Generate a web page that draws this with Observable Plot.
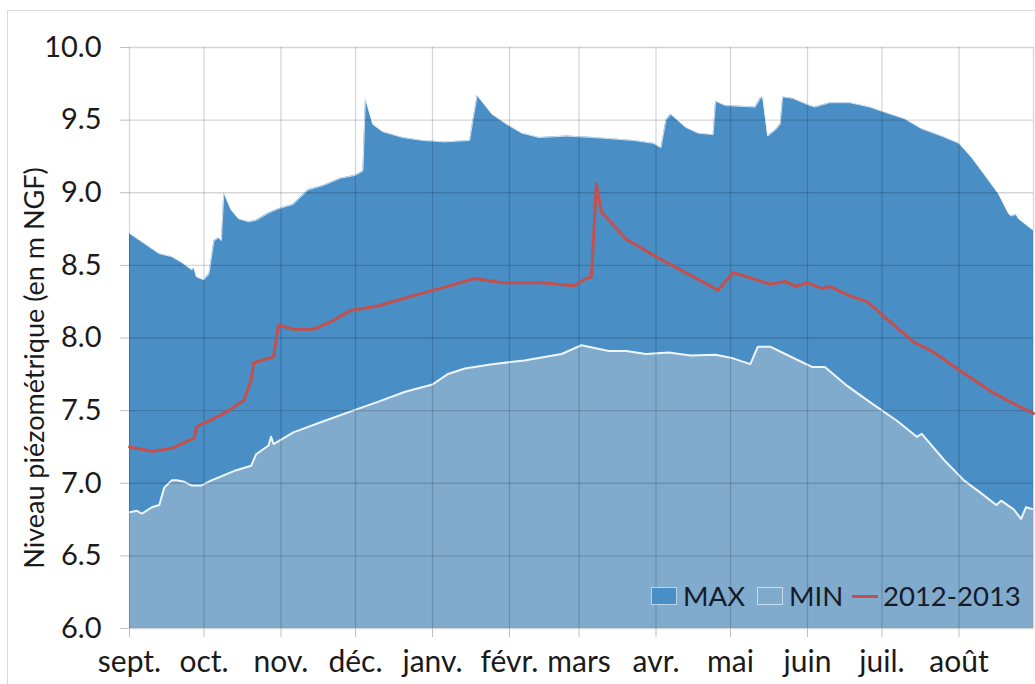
<!DOCTYPE html>
<html>
<head>
<meta charset="utf-8">
<script src="https://cdn.jsdelivr.net/npm/d3@7"></script>
<script src="https://cdn.jsdelivr.net/npm/@observablehq/plot@0.6"></script>
<style>
html, body { margin: 0; padding: 0; background: #fff; }
#wrap { position: relative; width: 1035px; height: 684px; overflow: hidden; font-family: Lato, "Open Sans", sans-serif; }
#chart { position: absolute; left: 0; top: 0; }
#frame { position: absolute; left: 7px; top: 10px; width: 1100px; height: 800px; border: 1px solid #d9d9d9; pointer-events: none; }
#ylabel { position: absolute; left: 33px; top: 368px; transform: translate(-50%, -50%) rotate(-90deg); font-size: 27px; color: #1a1a1a; white-space: nowrap; line-height: 1; }
.lg { position: absolute; }
.lgtext { position: absolute; font-size: 27.5px; color: #141b2b; line-height: 1; top: 582px; white-space: nowrap; }
</style>
</head>
<body>
<div id="wrap">
  <div id="chart"></div>
  <div id="frame"></div>
  <div id="ylabel"></div>
  <div id="legend"></div>
</div>
<script>
// ---- Data ----
const monthLabels = ["sept.", "oct.", "nov.", "déc.", "janv.", "févr.", "mars", "avr.", "mai", "juin", "juil.", "août"];
const monthStarts = ["2012-09-01", "2012-10-01", "2012-11-01", "2012-12-01", "2013-01-01", "2013-02-01", "2013-03-01", "2013-04-01", "2013-05-01", "2013-06-01", "2013-07-01", "2013-08-01"];
const yTicks = [6.0, 6.5, 7.0, 7.5, 8.0, 8.5, 9.0, 9.5, 10.0];

const maxDates = ["2012-09-01","2012-09-07","2012-09-13","2012-09-18","2012-09-22","2012-09-26","2012-09-27","2012-09-28","2012-10-01","2012-10-03","2012-10-05","2012-10-07","2012-10-08","2012-10-09","2012-10-12","2012-10-15","2012-10-19","2012-10-22","2012-10-27","2012-10-31","2012-11-06","2012-11-09","2012-11-12","2012-11-18","2012-11-25","2012-12-01","2012-12-03","2012-12-04","2012-12-05","2012-12-08","2012-12-12","2012-12-20","2012-12-28","2013-01-06","2013-01-16","2013-01-17","2013-01-19","2013-01-25","2013-01-31","2013-02-06","2013-02-13","2013-02-24","2013-03-07","2013-03-15","2013-03-23","2013-03-31","2013-04-03","2013-04-05","2013-04-07","2013-04-13","2013-04-18","2013-04-24","2013-04-25","2013-04-29","2013-05-11","2013-05-13","2013-05-14","2013-05-16","2013-05-19","2013-05-21","2013-05-22","2013-05-26","2013-06-02","2013-06-04","2013-06-10","2013-06-18","2013-06-26","2013-07-02","2013-07-10","2013-07-17","2013-07-25","2013-08-01","2013-08-06","2013-08-11","2013-08-17","2013-08-21","2013-08-22","2013-08-24","2013-08-25","2013-08-31"];
const maxValues = [8.72,8.65,8.58,8.56,8.52,8.47,8.48,8.42,8.40,8.44,8.67,8.69,8.67,9.00,8.88,8.82,8.80,8.81,8.86,8.89,8.92,8.97,9.02,9.05,9.10,9.12,9.14,9.15,9.65,9.47,9.42,9.38,9.36,9.35,9.36,9.47,9.67,9.54,9.47,9.41,9.38,9.39,9.38,9.37,9.36,9.34,9.31,9.50,9.54,9.45,9.41,9.40,9.63,9.60,9.59,9.65,9.66,9.39,9.43,9.47,9.66,9.65,9.60,9.59,9.62,9.62,9.59,9.555,9.51,9.44,9.39,9.34,9.245,9.13,8.99,8.855,8.84,8.85,8.82,8.74];

const minDates = ["2012-09-01","2012-09-04","2012-09-06","2012-09-10","2012-09-13","2012-09-15","2012-09-18","2012-09-20","2012-09-23","2012-09-26","2012-09-30","2012-10-04","2012-10-14","2012-10-20","2012-10-22","2012-10-27","2012-10-28","2012-10-29","2012-11-06","2012-11-17","2012-11-30","2012-12-10","2012-12-21","2013-01-01","2013-01-07","2013-01-14","2013-01-25","2013-02-07","2013-02-22","2013-03-02","2013-03-13","2013-03-20","2013-03-28","2013-04-06","2013-04-15","2013-04-25","2013-05-02","2013-05-09","2013-05-12","2013-05-17","2013-05-23","2013-06-03","2013-06-08","2013-06-17","2013-06-26","2013-07-07","2013-07-15","2013-07-17","2013-07-26","2013-08-03","2013-08-10","2013-08-16","2013-08-18","2013-08-23","2013-08-26","2013-08-28","2013-08-31"];
const minValues = [6.80,6.81,6.79,6.835,6.85,6.97,7.02,7.02,7.01,6.985,6.985,7.02,7.09,7.12,7.20,7.26,7.32,7.27,7.35,7.42,7.50,7.56,7.63,7.68,7.75,7.79,7.82,7.845,7.89,7.95,7.91,7.91,7.89,7.90,7.88,7.885,7.86,7.82,7.94,7.94,7.89,7.80,7.80,7.67,7.56,7.43,7.32,7.34,7.16,7.02,6.93,6.85,6.88,6.82,6.755,6.835,6.82];

const yearLabel = "2012-2013";
const yearDates = ["2012-09-01","2012-09-10","2012-09-18","2012-09-27","2012-09-28","2012-10-03","2012-10-10","2012-10-17","2012-10-20","2012-10-21","2012-10-29","2012-10-31","2012-11-06","2012-11-14","2012-11-22","2012-11-29","2012-12-10","2012-12-24","2013-01-06","2013-01-18","2013-01-29","2013-02-14","2013-02-27","2013-03-04","2013-03-06","2013-03-08","2013-03-10","2013-03-20","2013-04-01","2013-04-14","2013-04-26","2013-05-02","2013-05-06","2013-05-17","2013-05-23","2013-05-27","2013-06-01","2013-06-07","2013-06-10","2013-06-18","2013-06-25","2013-07-03","2013-07-14","2013-07-21","2013-08-01","2013-08-15","2013-08-24","2013-08-31"];
const yearValues = [7.25,7.22,7.24,7.31,7.39,7.43,7.49,7.57,7.71,7.83,7.87,8.09,8.06,8.06,8.12,8.19,8.22,8.29,8.35,8.41,8.38,8.38,8.36,8.41,8.42,9.06,8.87,8.68,8.56,8.44,8.33,8.45,8.43,8.37,8.39,8.355,8.38,8.34,8.355,8.29,8.25,8.13,7.97,7.91,7.78,7.62,7.54,7.48];

const yLabel = "Niveau piézométrique (en m NGF)";

// ---- Build tables ----
const parse = d3.utcParse("%Y-%m-%d");
const maxData = maxDates.map((d, i) => ({date: parse(d), value: maxValues[i]}));
const minData = minDates.map((d, i) => ({date: parse(d), value: minValues[i]}));
const yearData = yearDates.map((d, i) => ({date: parse(d), value: yearValues[i]}));
const ticksX = monthStarts.map(parse);

const colMax = "#4a8ec6";
const colMin = "#80abcd";
const colYear = "#c4504e";

const chart = Plot.plot({
  width: 1035,
  height: 684,
  marginLeft: 129,
  marginRight: 2,
  marginTop: 47,
  marginBottom: 56,
  style: {fontFamily: "Lato, 'Open Sans', sans-serif", background: "transparent"},
  x: {type: "utc", domain: [parse("2012-09-01"), parse("2013-08-31")]},
  y: {domain: [6, 10]},
  marks: [
    Plot.areaY(maxData, {x: "date", y1: 6, y2: "value", fill: colMax, curve: "linear"}),
    Plot.lineY(maxData, {x: "date", y: "value", stroke: "#eaf3fb", strokeWidth: 1, strokeOpacity: 0.8}),
    Plot.areaY(minData, {x: "date", y1: 6, y2: "value", fill: colMin, curve: "linear"}),
    Plot.lineY(minData, {x: "date", y: "value", stroke: "#eef6fd", strokeWidth: 2}),
    Plot.gridY(yTicks, {stroke: "#000", strokeOpacity: 0.16, strokeWidth: 1.3}),
    Plot.gridX(ticksX, {stroke: "#000", strokeOpacity: 0.16, strokeWidth: 1.3}),
    Plot.ruleX([parse("2013-08-31")], {stroke: "#000", strokeOpacity: 0.16, strokeWidth: 1.3}),
    Plot.lineY(yearData, {x: "date", y: "value", stroke: colYear, strokeWidth: 3, strokeLinejoin: "round"}),
    Plot.axisY(yTicks, {tickSize: 9, tickPadding: 19, fontSize: 29, stroke: "#bfbfbf", fill: "#1a1a1a", tickFormat: d => d.toFixed(1), label: null}),
    Plot.axisX(ticksX, {tickSize: 9, tickPadding: 13, fontSize: 30, stroke: "#bfbfbf", fill: "#1a1a1a", tickFormat: (d, i) => monthLabels[i], label: null})
  ]
});
document.getElementById("chart").appendChild(chart);
document.getElementById("ylabel").textContent = yLabel;

// ---- Legend (inside plot, bottom right) ----
const legend = document.getElementById("legend");
const items = [
  {label: "MAX", kind: "box", color: colMax, sx: 651, tx: 683},
  {label: "MIN", kind: "box", color: colMin, sx: 757, tx: 789},
  {label: yearLabel, kind: "line", color: colYear, sx: 852, tx: 883}
];
for (const it of items) {
  const sw = document.createElement("div");
  sw.className = "lg";
  if (it.kind === "box") {
    Object.assign(sw.style, {left: it.sx + "px", top: "587px", width: "26px", height: "18px", background: it.color, boxSizing: "border-box", border: "1px solid rgba(230,242,252,0.7)"});
  } else {
    Object.assign(sw.style, {left: it.sx + "px", top: "595px", width: "26px", height: "3px", background: it.color});
  }
  legend.appendChild(sw);
  const tx = document.createElement("div");
  tx.className = "lgtext";
  tx.style.left = it.tx + "px";
  tx.textContent = it.label;
  legend.appendChild(tx);
}
</script>
</body>
</html>
